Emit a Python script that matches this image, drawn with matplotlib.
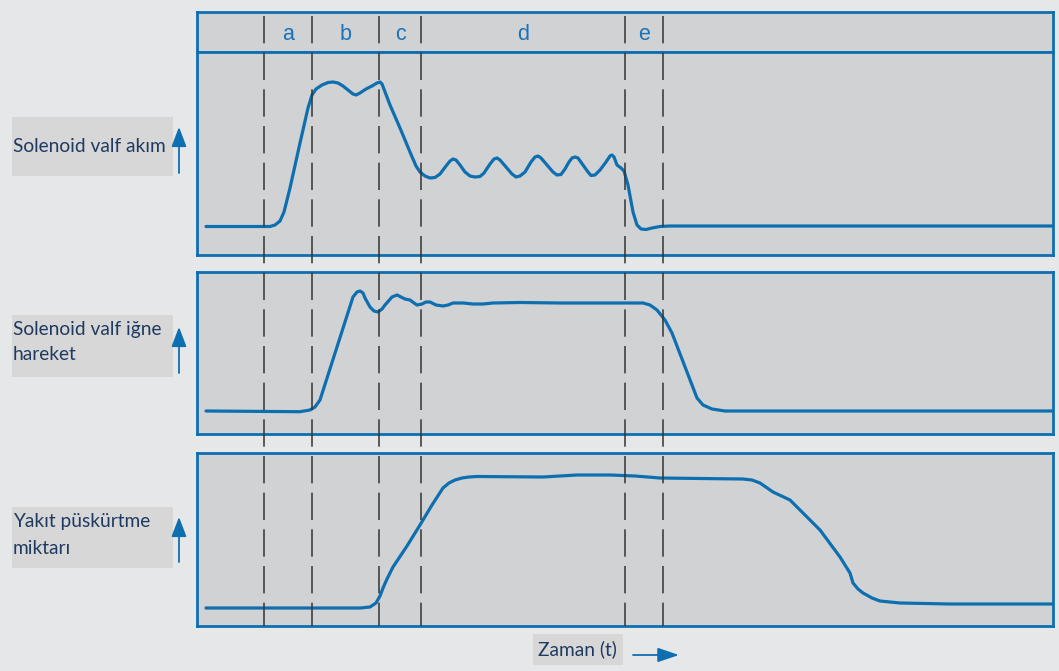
import matplotlib
matplotlib.use("Agg")
import matplotlib.pyplot as plt
from matplotlib.patches import Rectangle

# time axis: arbitrary units across the panel width
t_max = 856

# phase boundaries and their labels
phase_bounds = [67, 115, 182, 224, 428, 466]
phase_labels = ["a", "b", "c", "d", "e"]

# solenoid valve current
cur_t = [9, 73, 78, 83, 87, 93, 103, 111, 115, 119, 125, 131, 136, 141, 146, 151, 156, 159,
         163, 169, 175, 180, 183, 185, 193, 203, 213, 219, 223, 228, 233, 238, 243, 249, 253,
         256, 259, 263, 268, 273, 278, 283, 287, 293, 297, 300, 303, 309, 315, 319, 323, 328,
         334, 338, 341, 344, 350, 356, 360, 364, 368, 372, 375, 378, 381, 386, 391, 394, 398,
         403, 409, 413, 415, 417, 420, 424, 427, 431, 436, 440, 444, 449, 455, 463, 473, 855]
cur_v = [28.5, 28.5, 30, 34, 43, 67, 112, 147, 160, 166, 170, 172.5, 173, 172, 169, 165, 161, 160,
         162, 166, 169, 172, 173, 171, 150, 127, 103, 89, 83, 79, 77, 77.5, 81, 89, 94,
         96, 95, 90, 83, 79, 78, 78.5, 82, 91, 96, 97, 95, 88, 81, 78, 79, 83,
         93, 98, 99, 97, 90, 83, 80, 80.5, 86, 93, 97, 98, 97, 90, 83, 79.5, 80,
         85, 93, 99, 100, 98, 90, 87, 84, 70, 43, 30, 26, 25.5, 27, 28.5, 29, 29]

# solenoid valve needle lift
lift_t = [9, 103, 113, 118, 123, 156, 160, 163, 166, 168, 173, 177, 181, 185, 188, 195, 200,
          204, 208, 213, 217, 220, 225, 229, 233, 239, 246, 251, 256, 266, 276, 286, 296, 323,
          363, 403, 446, 453, 460, 468, 475, 500, 506, 515, 528, 855]
lift_v = [23, 22.3, 24, 27, 34, 137, 142, 143, 141, 136, 127, 123, 122, 125, 129, 137, 139,
          137, 135, 134, 131, 129, 130, 132, 132, 129, 128, 129, 131, 131, 130, 130, 131, 131.5,
          131, 131, 131, 129, 124, 114, 101, 36, 29, 25, 23, 23]

# injected fuel quantity
fuel_t = [9, 163, 173, 179, 183, 186, 190, 196, 210, 223, 235, 246, 252, 258, 265, 272, 280,
          346, 380, 413, 438, 463, 503, 546, 555, 563, 576, 593, 606, 623, 643, 653, 656, 661,
          666, 675, 683, 703, 753, 855]
fuel_v = [18, 18, 19, 23, 30, 38, 47, 59, 80, 101, 121, 138, 143, 146, 148, 149, 149.5,
          149, 151, 151, 150, 148, 147.5, 147, 146, 143, 134, 126, 113, 96, 69, 53, 43, 37,
          33, 28, 25, 23, 22, 22]

blue = "#0e6fb0"
panel_fill = "#d1d2d4"
bg = "#e6e7e9"
text_col = "#1f3a60"

W, H = 1059, 671
fig = plt.figure(figsize=(W / 100, H / 100), dpi=100, facecolor=bg)

# background layer in pixel coordinates for labels and arrows
ax_bg = fig.add_axes([0, 0, 1, 1])
ax_bg.set_xlim(0, W)
ax_bg.set_ylim(H, 0)
ax_bg.axis("off")


def panel(top, bottom):
    ax = fig.add_axes([197 / W, 1 - bottom / H, 856 / W, (bottom - top) / H])
    ax.set_facecolor(panel_fill)
    ax.set_xlim(0, t_max)
    ax.set_ylim(0, bottom - top)
    ax.set_xticks([])
    ax.set_yticks([])
    for s in ax.spines.values():
        s.set_color(blue)
        s.set_linewidth(2)
    return ax


ax_head = panel(12, 52)
ax1 = panel(52, 255)
ax2 = panel(272, 434)
ax3 = panel(453, 626)

lw_curve = 2.3
for ax, tt, vv in [(ax1, cur_t, cur_v), (ax2, lift_t, lift_v), (ax3, fuel_t, fuel_v)]:
    ax.plot(tt, vv, color=blue, lw=lw_curve, solid_joinstyle="round", solid_capstyle="round")

for i, lab in enumerate(phase_labels):
    mid = (phase_bounds[i] + phase_bounds[i + 1]) / 2
    ax_head.text(mid, 17, lab, color="#1a72b8", fontsize=15.5, family="Liberation Sans",
                 ha="center", va="center")

# dashed phase lines across all panels
ax_top = fig.add_axes([0, 0, 1, 1], zorder=10)
ax_top.set_xlim(-197, W - 197)
ax_top.set_ylim(H, 0)
ax_top.axis("off")
ax_top.patch.set_alpha(0)
for b in phase_bounds:
    ax_top.plot([b, b], [16, 626], color="#333333", lw=1.1, linestyle=(0, (17.9, 6.1)))

# side labels
side_labels = [
    ("Solenoid valf akım", 117, 176, [146], 173, 127),
    ("Solenoid valf iğne\nhareket", 315, 377, [330, 355], 373, 327),
    ("Yakıt püskürtme\nmiktarı", 507, 568, [522, 548], 562, 517),
]
for txt, y0, y1, ys, a0, a1 in side_labels:
    ax_bg.add_patch(Rectangle((12, y0), 161, y1 - y0, facecolor="#d7d7d8", edgecolor="none"))
    for line, y in zip(txt.split("\n"), ys):
        ax_bg.text(13, y, line, color=text_col, fontsize=13.8, family="Lato",
                   ha="left", va="center")
    ax_bg.annotate("", xy=(179, a1), xytext=(179, a0),
                   arrowprops=dict(arrowstyle="-|>,head_length=0.6,head_width=0.23",
                                   color=blue, lw=1.3, mutation_scale=20, shrinkA=0, shrinkB=0))

ax_bg.add_patch(Rectangle((533, 634), 90, 31, facecolor="#d7d7d8", edgecolor="none"))
ax_bg.text(577, 649, "Zaman (t)", color=text_col, fontsize=13.8, family="Lato",
           ha="center", va="center")
ax_bg.annotate("", xy=(679, 655), xytext=(633, 655),
               arrowprops=dict(arrowstyle="-|>,head_length=0.65,head_width=0.22",
                               color=blue, lw=1.3, mutation_scale=20, shrinkA=0, shrinkB=0))

fig.savefig("out.png", dpi=100, facecolor=bg)
